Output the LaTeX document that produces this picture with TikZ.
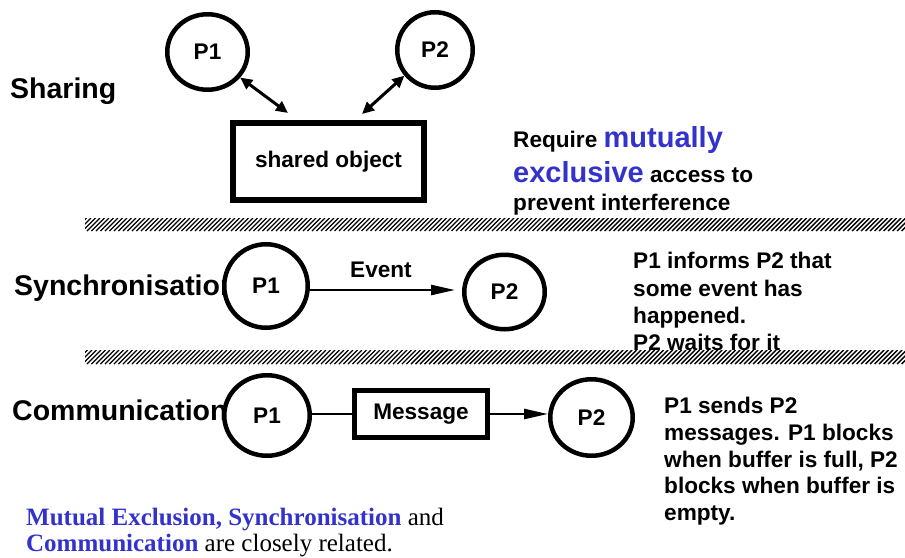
\documentclass[tikz,border=0pt]{standalone}
\usepackage{fontspec}
\setmainfont{Liberation Sans}
\newfontfamily\timesfont{Liberation Serif}
\usetikzlibrary{shapes.geometric,arrows.meta}
\definecolor{hiblue}{RGB}{51,51,204}

\tikzset{
  proc/.style={ellipse, draw, fill=white, line width=4.5pt, inner sep=0pt,
    font=\bfseries\fontsize{22.6}{26}\selectfont},
  objbox/.style={rectangle, draw, fill=white, inner sep=0pt,
    font=\bfseries\fontsize{22.6}{26}\selectfont},
  heading/.style={anchor=base west, inner sep=0pt,
    font=\bfseries\fontsize{28.5}{32}\selectfont},
  note/.style={anchor=base west, inner sep=0pt,
    font=\bfseries\fontsize{22.6}{26}\selectfont},
  lbl/.style={inner sep=0pt, font=\bfseries\fontsize{22.6}{26}\selectfont},
  summary/.style={anchor=base west, inner sep=0pt, font=\timesfont\fontsize{25}{29}\selectfont},
  twoway/.style={line width=3pt, {Triangle[length=12pt,width=11pt]}-{Triangle[length=12pt,width=11pt]}},
  oneway/.style={line width=2.5pt, -{Triangle[length=24pt,width=10pt]}},
  plainline/.style={line width=2.5pt},
}
% diagonal hatched separator band between two y values
\newcommand{\hatchband}[2]{%
  \begin{scope}
    \clip (85,#1) rectangle (905,#2);
    \foreach \hx in {60,64.5,...,912} {
      \draw[line width=1.4pt] (\hx,#2) -- ({\hx+#2-#1},#1);
    }
  \end{scope}}

\begin{document}
\begin{tikzpicture}[x=1pt,y=-1pt]
\useasboundingbox (0,0) rectangle (905,557);

% ---- Sharing ----
\node[heading] (hshare) at (10,98) {Sharing};
\node[proc, minimum width=80.5pt, minimum height=75.5pt] (sp1) at (207.5,52) {P1};
\node[proc, minimum width=75.5pt, minimum height=75.5pt] (sp2) at (435,50) {P2};
\node[objbox, line width=6pt, minimum width=191pt, minimum height=77pt] (shared) at (328.5,161.5) {shared object};
\coordinate (s1end) at (288,113);
\coordinate (s2end) at (362,114);
\draw[twoway] (sp1.-38) -- (s1end);
\draw[twoway] (sp2.-140) -- (s2end);

\node[note] (req1) at (513,147) {Require {\color{hiblue}\fontsize{29}{32}\selectfont mutually}};
\node[note] (req2) at (513,182) {{\color{hiblue}\fontsize{29}{32}\selectfont exclusive} access to};
\node[note] (req3) at (513,210) {prevent interference};

\hatchband{218}{231}

% ---- Synchronisation ----
\node[heading] (hsync) at (14,295) {Synchronisation};
\node[proc, minimum width=83.5pt, minimum height=83.5pt] (yp1) at (266,286) {P1};
\node[proc, minimum width=80.5pt, minimum height=74.5pt] (yp2) at (504.5,292) {P2};
\draw[oneway, shorten >=7pt] (yp1.east |- 0,290) -- (yp2.west |- 0,290);
\node[lbl, anchor=base] (event) at (381,277) {Event};

\node[note] (inf1) at (633,268) {P1 informs P2 that};
\node[note] (inf2) at (633,296) {some event has};
\node[note] (inf3) at (633,323) {happened.};
\node[note] (inf4) at (633,350) {P2 waits for it};

\hatchband{350}{364}

% ---- Communication ----
\node[heading] (hcomm) at (12,420) {Communication};
\node[proc, minimum width=85.5pt, minimum height=80.5pt] (cp1) at (267,415.5) {P1};
\node[objbox, line width=5pt, minimum width=133pt, minimum height=47pt] (msg) at (421,414) {Message};
\node[proc, minimum width=82.5pt, minimum height=76.5pt] (cp2) at (591.5,417.5) {P2};
\draw[plainline] (cp1.east |- msg.west) -- (msg.west);
\draw[oneway] (msg.east) -- (cp2.west |- msg.east);

\node[note] (snd1) at (664,413) {P1 sends P2};
\node[note] (snd2) at (664,440) {messages. P1 blocks};
\node[note] (snd3) at (664,467) {when buffer is full, P2};
\node[note] (snd4) at (664,493) {blocks when buffer is};
\node[note] (snd5) at (664,520) {empty.};

% ---- Summary ----
\node[summary] (sum1) at (26,525)
  {{\color{hiblue}\bfseries Mutual Exclusion, Synchronisation} and};
\node[summary] (sum2) at (26,551)
  {{\color{hiblue}\bfseries Communication} are closely related.};
\end{tikzpicture}
\end{document}
